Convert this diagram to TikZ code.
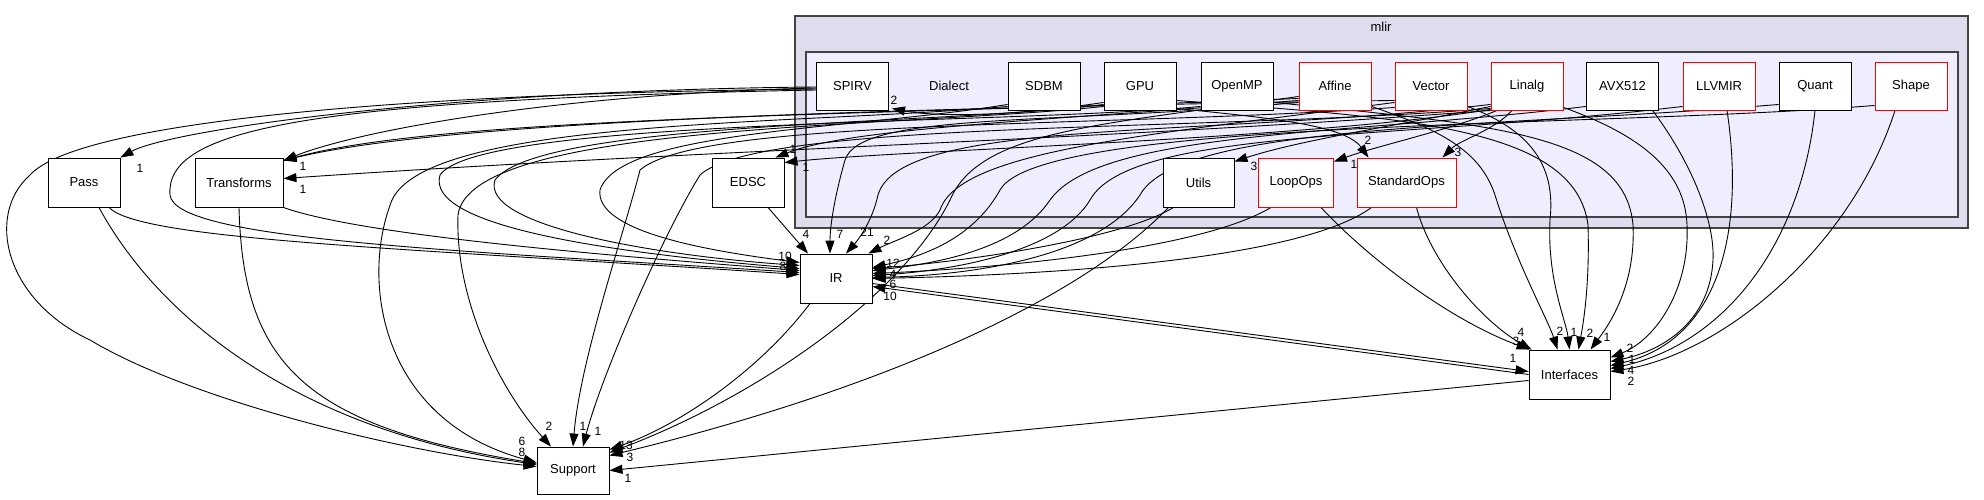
\documentclass[tikz,border=0pt]{standalone}
\usepackage{fontspec}
\setmainfont{Liberation Sans}
\usetikzlibrary{arrows.meta}
\definecolor{clout}{HTML}{DDDDEE}
\definecolor{clin}{HTML}{EEEEFF}
\definecolor{clborder}{HTML}{444444}
\pgfdeclarelayer{background}
\pgfdeclarelayer{edges}
\pgfsetlayers{background,edges,main}
\tikzset{
  dirbox/.style={draw=black, fill=white, line width=0.9pt, minimum width=72pt, minimum height=48pt, inner sep=0pt, font=\fontsize{13}{15}\selectfont},
  redbox/.style={dirbox, draw=red},
  conn/.style={draw=black, line width=0.9pt, -{Triangle[length=13pt,width=9pt]}},
  lbl/.style={font=\fontsize{12}{14}\selectfont, inner sep=0pt, text=black},
  clabel/.style={font=\fontsize{13}{15}\selectfont, inner sep=0pt},
  cluster/.style={draw=clborder, line width=1.3pt},
}
\begin{document}
\begin{tikzpicture}[x=1pt,y=-1pt]
\useasboundingbox (0,0) rectangle (1984,500);
\begin{pgfonlayer}{background}
\fill[white] (0,0) rectangle (1984,500);
\draw[cluster, fill=clout] (795,16) rectangle (1968,228);
\draw[cluster, fill=clin] (806,52) rectangle (1958,217);
\end{pgfonlayer}
\node[clabel] (mlirlabel) at (1381,27) {mlir};
\node[clabel] (dialectlabel) at (949,86) {Dialect};
% top row
\node[dirbox] (SPIRV) at (852.5,86) {SPIRV};
\node[dirbox] (SDBM) at (1044,86) {SDBM};
\node[dirbox] (GPU) at (1140,86) {GPU};
\node[dirbox] (OpenMP) at (1237,86) {OpenMP};
\node[redbox] (Affine) at (1335,86) {Affine};
\node[redbox] (Vector) at (1431,86) {Vector};
\node[redbox] (Linalg) at (1527,86) {Linalg};
\node[dirbox] (AVX512) at (1622.5,86) {AVX512};
\node[redbox] (LLVMIR) at (1719,86) {LLVMIR};
\node[dirbox] (Quant) at (1815,86) {Quant};
\node[redbox] (Shape) at (1911,86) {Shape};
% second row
\node[dirbox, minimum height=49pt] (Pass) at (84,182.5) {Pass};
\node[dirbox, minimum height=49pt, minimum width=88pt] (Transforms) at (239,182.5) {Transforms};
\node[dirbox, minimum height=49pt] (EDSC) at (748,182.5) {EDSC};
\node[dirbox, minimum height=49pt, minimum width=71pt] (Utils) at (1198.5,182.5) {Utils};
\node[redbox, minimum height=49pt, minimum width=75pt] (LoopOps) at (1296,182.5) {LoopOps};
\node[redbox, minimum height=49pt, minimum width=99pt] (StandardOps) at (1406.5,182.5) {StandardOps};
% lower
\node[dirbox, minimum height=49pt] (IR) at (836,278.5) {IR};
\node[dirbox, minimum height=47pt] (Support) at (573,470.5) {Support};
\node[dirbox, minimum height=49pt, minimum width=81pt] (Interfaces) at (1569.5,374.5) {Interfaces};

\begin{pgfonlayer}{edges}
% SPIRV
\draw[conn] ([yshift=-1pt]SPIRV.west) .. controls (450,90) and (170,130) .. (Pass.north east) node[lbl,at={(140,168)}]{1};
\draw[conn] ([yshift=-2pt]SPIRV.west) .. controls (560,94) and (360,130) .. ([yshift=-3pt]Transforms.north east) node[lbl,at={(303,166)}]{1};
\draw[conn] ([yshift=-3pt]SPIRV.west) .. controls (420,93) and (80,120) .. (30,175) .. controls (-15,215) and (5,300) .. (90,340) .. controls (190,400) and (400,452) .. ([yshift=4pt]Support.west) node[lbl,at={(522,452)}]{8};
\draw[conn] ([yshift=-4pt]SPIRV.west) .. controls (300,100) and (165,130) .. (170,195) .. controls (175,240) and (450,250) .. ([yshift=6pt]IR.west) node[lbl,at={(783,266)}]{8};
% Pass, Transforms, EDSC
\draw[conn] ([xshift=15pt]Pass.south) .. controls (160,320) and (300,430) .. ([yshift=6pt]Support.west) node[lbl,at={(522,441)}]{6};
\draw[conn] ([xshift=25pt]Pass.south) .. controls (140,240) and (400,248) .. ([yshift=4pt]IR.west);
\draw[conn] (Transforms.south) .. controls (243,360) and (300,425) .. ([yshift=7pt]Support.west);
\draw[conn] (Transforms.south east) .. controls (360,235) and (600,255) .. ([yshift=8pt]IR.west);
\draw[conn] ([xshift=20pt]EDSC.south) -- ([xshift=-28pt]IR.north) node[lbl,at={(806,234)}]{4};
% SDBM
\draw[conn] ([yshift=4pt]SDBM.south west) .. controls (800,125) and (430,118) .. (392,200) .. controls (360,280) and (380,420) .. ([yshift=8pt]Support.west);
\draw[conn] ([yshift=6pt]SDBM.south west) .. controls (850,130) and (620,130) .. (600,190) .. controls (595,230) and (700,250) .. ([yshift=16pt]IR.west) node[lbl,at={(785,256)}]{10};
% GPU
\draw[conn] ([yshift=8pt]GPU.south west) .. controls (1000,118) and (930,116) .. ([xshift=3pt,yshift=2pt]SPIRV.south east) node[lbl,at={(894,100)}]{2};
\draw[conn] ([yshift=4pt]GPU.south west) .. controls (900,128) and (470,122) .. (458,215) .. controls (455,300) and (500,390) .. ([xshift=-22pt]Support.north) node[lbl,at={(549,426)}]{2};
\draw[conn] ([yshift=6pt]GPU.south west) .. controls (950,125) and (540,120) .. (495,180) .. controls (480,225) and (650,255) .. ([yshift=13pt]IR.west);
\draw[conn] ([yshift=2pt]GPU.south east) .. controls (1270,118) and (1345,125) .. ([xshift=-38pt]StandardOps.north) node[lbl,at={(1368,140)}]{2};
\draw[conn] ([yshift=10pt]GPU.south east) .. controls (1400,118) and (1575,125) .. (1588,225) .. controls (1590,290) and (1582,330) .. ([xshift=9pt]Interfaces.north) node[lbl,at={(1590,333)}]{2};
% OpenMP
\draw[conn] ([yshift=4pt]OpenMP.south west) .. controls (1000,125) and (480,118) .. (440,175) .. controls (425,225) and (600,252) .. ([yshift=10pt]IR.west);
\draw[conn] ([yshift=8pt]OpenMP.south east) .. controls (1500,125) and (1625,135) .. (1633,225) .. controls (1636,290) and (1605,330) .. ([xshift=21pt]Interfaces.north) node[lbl,at={(1607,337)}]{1};
% Affine
\draw[conn] ([yshift=8pt]Affine.south west) .. controls (1050,125) and (860,112) .. (845,160) .. controls (835,195) and (830,225) .. ([xshift=-6pt]IR.north) node[lbl,at={(840,234)}]{7};
\draw[conn] ([yshift=10pt]Affine.south west) .. controls (1050,120) and (850,128) .. ([xshift=-9pt]EDSC.north east) node[lbl,at={(793,149)}]{1};
\draw[conn] ([yshift=12pt]Affine.south west) .. controls (900,115) and (450,115) .. ([yshift=-3pt]Transforms.north east);
\draw[conn] ([yshift=14pt]Affine.south west) .. controls (1100,125) and (980,130) .. (950,200) .. controls (900,300) and (750,400) .. ([yshift=-6pt]Support.north east);
\draw[conn] ([yshift=4pt]Affine.south east) .. controls (1440,130) and (1480,150) .. (1495,195) .. controls (1515,260) and (1548,320) .. ([xshift=-12pt]Interfaces.north) node[lbl,at={(1560,331)}]{2};
% Vector
\draw[conn] ([yshift=3pt]Vector.south west) .. controls (1100,128) and (700,118) .. (640,170) .. controls (625,230) and (580,360) .. (Support.north) node[lbl,at={(583,426)}]{1};
\draw[conn] ([yshift=8pt]Vector.south west) .. controls (1150,135) and (960,150) .. (940,210) .. controls (930,230) and (895,240) .. ([xshift=-4pt]IR.north east) node[lbl,at={(887,240)}]{2};
\draw[conn] ([yshift=10pt]Vector.south west) .. controls (900,108) and (450,120) .. ([yshift=-3pt]Transforms.north east);
\draw[conn] ([yshift=4pt]Vector.south east) .. controls (1530,130) and (1556,165) .. (1550,220) .. controls (1547,280) and (1566,320) .. (Interfaces.north) node[lbl,at={(1574,332)}]{1};
% Linalg
\draw[conn] ([yshift=2pt]Linalg.south west) .. controls (1200,132) and (760,120) .. (700,175) .. controls (660,240) and (600,380) .. ([xshift=10pt]Support.north) node[lbl,at={(598,431)}]{1};
\draw[conn] ([yshift=6pt]Linalg.south west) .. controls (1200,138) and (900,118) .. (878,195) .. controls (872,222) and (858,240) .. ([xshift=10pt]IR.north) node[lbl,at={(867,232)}]{21};
\draw[conn] ([yshift=0pt]Linalg.south west) .. controls (1100,140) and (700,150) .. ([yshift=4pt]Transforms.east) node[lbl,at={(303,189)}]{1};
\draw[conn] ([yshift=1pt]Linalg.south west) .. controls (1300,140) and (900,150) .. ([yshift=-5pt]EDSC.north east) node[lbl,at={(806,167)}]{1};
\draw[conn] ([yshift=4pt]Linalg.south west) .. controls (1400,125) and (1300,140) .. ([yshift=-4pt]Utils.north east) node[lbl,at={(1254,166)}]{3};
\draw[conn] ([xshift=-30pt]Linalg.south) .. controls (1450,130) and (1380,145) .. ([yshift=-4pt]LoopOps.north east) node[lbl,at={(1354,164)}]{1};
\draw[conn] ([xshift=-15pt]Linalg.south) .. controls (1495,130) and (1460,140) .. ([xshift=36pt]StandardOps.north) node[lbl,at={(1458,152)}]{3};
\draw[conn] ([yshift=3pt]Linalg.south east) .. controls (1640,135) and (1685,170) .. (1687,225) .. controls (1690,290) and (1655,340) .. ([yshift=17pt]Interfaces.east) node[lbl,at={(1630,348)}]{2};
% AVX512, LLVMIR, Quant, Shape
\draw[conn] ([yshift=4pt]AVX512.south west) .. controls (1350,135) and (1100,130) .. (1050,200) .. controls (1020,245) and (950,262) .. ([yshift=8pt]IR.east);
\draw[conn] ([xshift=30pt]AVX512.south) .. controls (1690,160) and (1715,220) .. (1713,260) .. controls (1710,320) and (1665,350) .. ([yshift=13pt]Interfaces.east) node[lbl,at={(1632,359)}]{1};
\draw[conn] ([yshift=4pt]LLVMIR.south west) .. controls (1400,140) and (1130,128) .. (1090,200) .. controls (1060,250) and (960,270) .. ([yshift=3pt]IR.east);
\draw[conn] ([xshift=8pt]LLVMIR.south) .. controls (1745,230) and (1720,340) .. ([yshift=9pt]Interfaces.east) node[lbl,at={(1631,370)}]{4};
\draw[conn] ([yshift=6pt]Quant.south west) .. controls (1500,128) and (1180,122) .. (1140,195) .. controls (1100,255) and (980,275) .. ([yshift=1pt]IR.east);
\draw[conn] (Quant.south) .. controls (1800,250) and (1720,345) .. ([yshift=6pt]Interfaces.east) node[lbl,at={(1631,381)}]{2};
\draw[conn] ([yshift=5pt]Shape.south west) .. controls (1600,128) and (1040,118) .. (1000,190) .. controls (975,235) and (930,255) .. ([yshift=11pt]IR.east);
\draw[conn] ([xshift=-16pt]Shape.south) .. controls (1850,250) and (1720,355) .. ([yshift=3pt]Interfaces.east);
% Utils, LoopOps, StandardOps
\draw[conn] ([xshift=-25pt]Utils.south) .. controls (1120,240) and (960,262) .. ([yshift=10pt]IR.east) node[lbl,at={(893,263)}]{12};
\draw[conn] ([xshift=-30pt]Utils.south) .. controls (1080,300) and (880,390) .. ([yshift=-9pt]Support.north east) node[lbl,at={(630,457)}]{3};
\draw[conn] ([xshift=-25pt]LoopOps.south) .. controls (1200,250) and (1000,268) .. ([yshift=5pt]IR.east) node[lbl,at={(893,274)}]{4};
\draw[conn] ([xshift=25pt]LoopOps.south) .. controls (1370,260) and (1450,320) .. ([xshift=1pt]Interfaces.north west) node[lbl,at={(1516,341)}]{3};
\draw[conn] ([xshift=-35pt]StandardOps.south) .. controls (1300,260) and (1050,275) .. (IR.east) node[lbl,at={(893,284)}]{6};
\draw[conn] ([xshift=10pt]StandardOps.south) .. controls (1430,260) and (1480,320) .. ([xshift=3pt]Interfaces.north west) node[lbl,at={(1521,332)}]{4};
% IR, Interfaces
\draw[conn] ([xshift=-26pt]IR.south) .. controls (760,370) and (680,425) .. ([yshift=-3pt]Support.north east) node[lbl,at={(626,445)}]{13};
\draw[conn] ([yshift=-5pt]IR.east) -- ([yshift=3pt]Interfaces.west) node[lbl,at={(1513,358)}]{1};
\draw[conn] (Interfaces.west) -- ([yshift=-8pt]IR.east) node[lbl,at={(890,296)}]{10};
\draw[conn] ([yshift=-6pt]Interfaces.west) -- (Support.east) node[lbl,at={(628,478)}]{1};
\end{pgfonlayer}
\end{tikzpicture}
\end{document}
